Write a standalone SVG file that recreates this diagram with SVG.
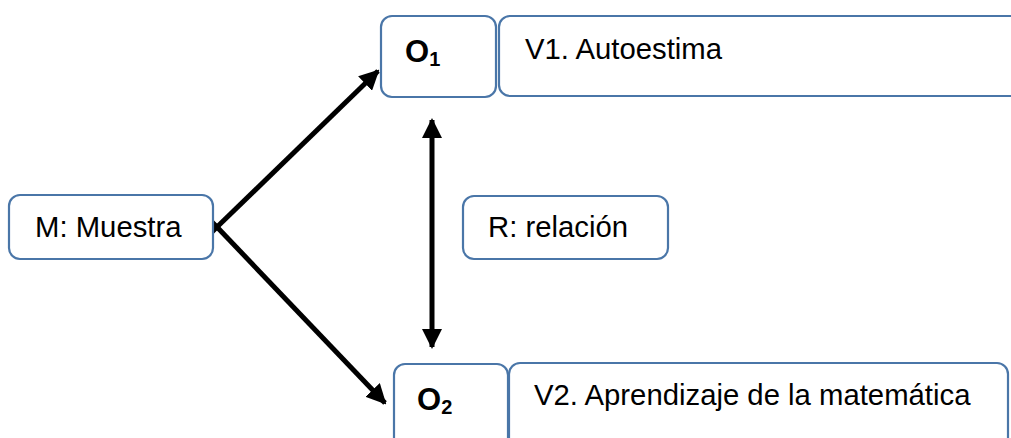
<svg xmlns="http://www.w3.org/2000/svg" width="1011" height="438" viewBox="0 0 1011 438">
<defs>
<style>
.box{fill:#fff;stroke:#4a76a8;stroke-width:2.2}
.t{font-family:"Liberation Sans",Arial,sans-serif;font-size:29.3px;fill:#000}
.b{font-weight:bold;font-size:31px}
.s{font-size:20px}
.c{stroke:#000;stroke-width:5;fill:none}
</style>
<marker id="ah" viewBox="0 0 10 10" refX="9" refY="5" markerWidth="4" markerHeight="4" markerUnits="strokeWidth" orient="auto-start-reverse">
<path d="M0,0 L10,5 L0,10 z" fill="#000"/>
</marker>
</defs>
<rect width="1011" height="438" fill="#fff"/>
<g id="connectors">
<line class="c" x1="217" y1="227" x2="378" y2="71" marker-end="url(#ah)"/>
<line class="c" x1="217" y1="227" x2="385" y2="403" marker-end="url(#ah)"/>
<polyline class="c" points="212,222 217,227 212,232" stroke-linejoin="miter"/>
<line class="c" x1="432" y1="120" x2="432" y2="347" marker-start="url(#ah)" marker-end="url(#ah)"/>
</g>
<g id="M">
<rect class="box" x="9" y="195" width="204" height="64" rx="11"/>
<text class="t" x="35" y="237">M: Muestra</text>
</g>
<g id="O1">
<rect class="box" x="381" y="16" width="115" height="81" rx="11"/>
<text class="t b" x="405" y="62">O<tspan class="s" dy="4">1</tspan></text>
</g>
<g id="V1">
<rect class="box" x="499" y="16" width="540" height="80" rx="11"/>
<text class="t" x="525" y="59">V1. Autoestima</text>
</g>
<g id="R">
<rect class="box" x="463" y="196" width="205" height="63" rx="11"/>
<text class="t" x="488" y="237">R: relación</text>
</g>
<g id="O2">
<rect class="box" x="394" y="364" width="114" height="100" rx="11"/>
<text class="t b" x="417" y="410">O<tspan class="s" dy="4">2</tspan></text>
</g>
<g id="V2">
<rect class="box" x="509" y="363" width="499" height="100" rx="11"/>
<text class="t" x="534" y="405">V2. Aprendizaje de la matemática</text>
</g>
</svg>
